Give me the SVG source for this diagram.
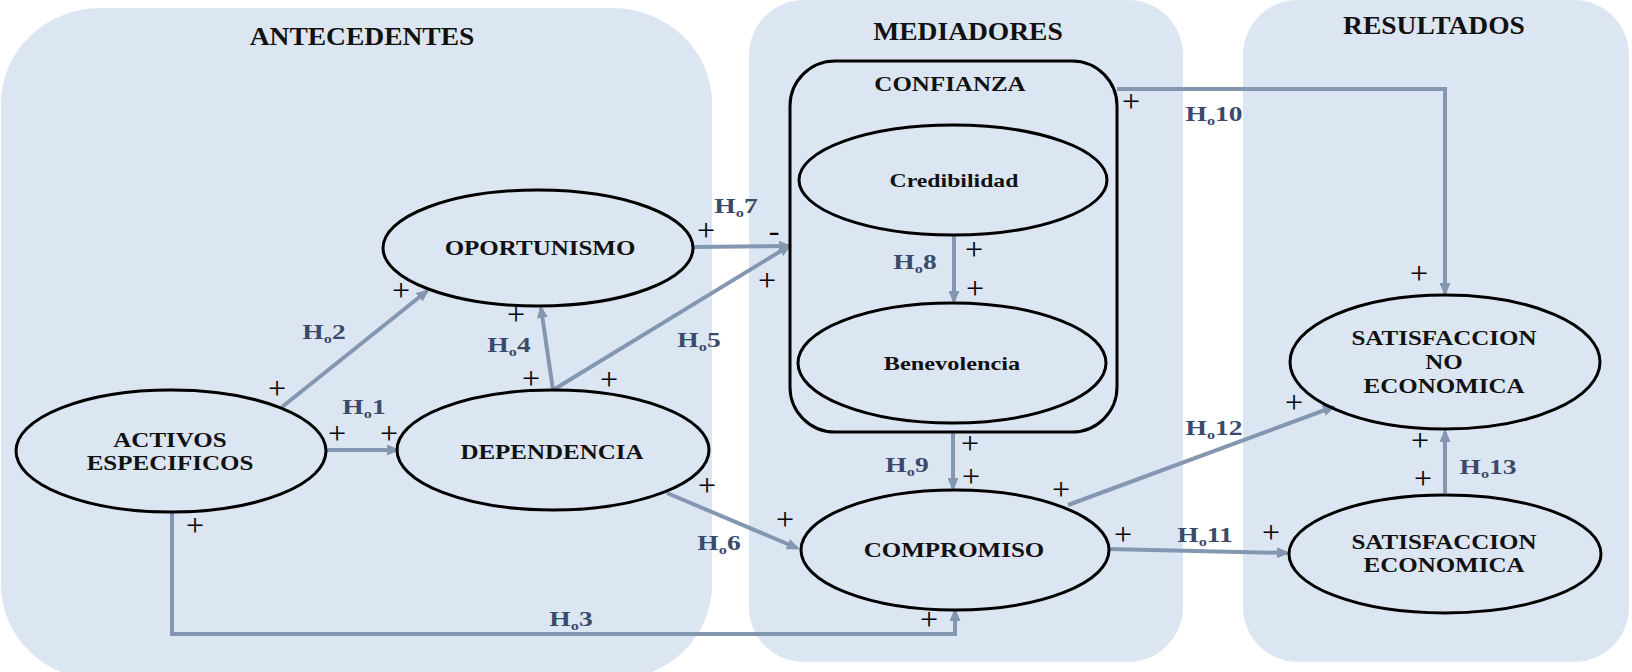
<svg xmlns="http://www.w3.org/2000/svg" width="1632" height="672" viewBox="0 0 1632 672">
<style>
.panel{fill:#dce6f2;stroke:none}
.node{fill:none;stroke:#000;stroke-width:3}
.title{font-family:"Liberation Serif","Times New Roman",serif;font-weight:bold;font-size:25px;fill:#111;text-anchor:middle}
.nl{font-family:"Liberation Serif","Times New Roman",serif;font-weight:bold;font-size:20px;fill:#111;text-anchor:middle}
.hl{font-family:"Liberation Serif","Times New Roman",serif;font-weight:bold;font-size:22px;fill:#3b4a6b;text-anchor:middle}
.hl .s{font-size:13px}
.pm{font-family:"Liberation Serif","Times New Roman",serif;font-size:32px;fill:#000;text-anchor:middle}
.edge{fill:none;stroke:#8497b0;stroke-width:4;marker-end:url(#ah)}
</style>
<defs>
<marker id="ah" viewBox="0 0 13 11" refX="10" refY="5.5" markerWidth="13" markerHeight="11" markerUnits="userSpaceOnUse" orient="auto">
<path d="M0,0 L13,5.5 L0,11 z" fill="#8497b0"/>
</marker>
</defs>
<rect width="1632" height="672" fill="#fff"/>

<g id="panel-antecedentes">
<rect class="panel" x="1" y="8" width="711" height="672" rx="100" ry="95"/>
<text class="title" transform="translate(362 45) scale(1.1 1)">ANTECEDENTES</text>
</g>
<g id="panel-mediadores">
<rect class="panel" x="749" y="0" width="434" height="662" rx="55" ry="55"/>
<text class="title" transform="translate(968 40) scale(1.1 1)">MEDIADORES</text>
</g>
<g id="panel-resultados">
<rect class="panel" x="1243" y="0" width="386" height="662" rx="55" ry="55"/>
<text class="title" transform="translate(1434 34) scale(1.1 1)">RESULTADOS</text>
</g>

<g id="connectors">
<path class="edge" d="M327,450 L397,450"/>
<path class="edge" d="M282,407 L427,291"/>
<path class="edge" d="M172,512 L172,634 L955,634 L955,611"/>
<path class="edge" d="M553,390 L541,308"/>
<path class="edge" d="M553,390 L789,246"/>
<path class="edge" d="M693,247 L789,246"/>
<path class="edge" d="M667,493 L797,548"/>
<path class="edge" d="M954,235 L954,301"/>
<path class="edge" d="M953,432 L953,488"/>
<path class="edge" d="M1117,89 L1445,89 L1445,293"/>
<path class="edge" d="M1108,549 L1287,553"/>
<path class="edge" d="M1068,505 L1333,407"/>
<path class="edge" d="M1445,493 L1445,432"/>
</g>

<g id="confianza">
<rect class="node" x="790" y="61" width="327" height="371" rx="45" ry="45"/>
<text class="nl" transform="translate(950 91) scale(1.25 1)">CONFIANZA</text>
</g>
<g id="credibilidad">
<ellipse class="node" cx="953" cy="180" rx="154" ry="55"/>
<text class="nl" style="font-size:19px" transform="translate(954 187) scale(1.25 1)">Credibilidad</text>
</g>
<g id="benevolencia">
<ellipse class="node" cx="952" cy="363" rx="154" ry="60"/>
<text class="nl" style="font-size:19px" transform="translate(952 370) scale(1.28 1)">Benevolencia</text>
</g>
<g id="oportunismo">
<ellipse class="node" cx="538" cy="248" rx="155" ry="58"/>
<text class="nl" transform="translate(540 255) scale(1.25 1)">OPORTUNISMO</text>
</g>
<g id="activos">
<ellipse class="node" cx="171" cy="451" rx="155" ry="61"/>
<text class="nl" transform="translate(170 447) scale(1.25 1)">ACTIVOS</text>
<text class="nl" transform="translate(170 470) scale(1.25 1)">ESPECIFICOS</text>
</g>
<g id="dependencia">
<ellipse class="node" cx="553" cy="450" rx="156" ry="60"/>
<text class="nl" transform="translate(552 459) scale(1.25 1)">DEPENDENCIA</text>
</g>
<g id="compromiso">
<ellipse class="node" cx="955" cy="550" rx="154" ry="60"/>
<text class="nl" transform="translate(954 557) scale(1.25 1)">COMPROMISO</text>
</g>
<g id="sat-no-economica">
<ellipse class="node" cx="1445" cy="362" rx="155" ry="67"/>
<text class="nl" transform="translate(1444 345) scale(1.25 1)">SATISFACCION</text>
<text class="nl" transform="translate(1444 369) scale(1.25 1)">NO</text>
<text class="nl" transform="translate(1444 393) scale(1.25 1)">ECONOMICA</text>
</g>
<g id="sat-economica">
<ellipse class="node" cx="1445" cy="554" rx="156" ry="59"/>
<text class="nl" transform="translate(1444 549) scale(1.25 1)">SATISFACCION</text>
<text class="nl" transform="translate(1444 572) scale(1.25 1)">ECONOMICA</text>
</g>

<g id="hypothesis-labels">
<text class="hl" transform="translate(364 414) scale(1.25 1)">H<tspan class="s" dy="4">o</tspan><tspan dy="-4">1</tspan></text>
<text class="hl" transform="translate(324 339) scale(1.25 1)">H<tspan class="s" dy="4">o</tspan><tspan dy="-4">2</tspan></text>
<text class="hl" transform="translate(571 626) scale(1.25 1)">H<tspan class="s" dy="4">o</tspan><tspan dy="-4">3</tspan></text>
<text class="hl" transform="translate(509 352) scale(1.25 1)">H<tspan class="s" dy="4">o</tspan><tspan dy="-4">4</tspan></text>
<text class="hl" transform="translate(699 347) scale(1.25 1)">H<tspan class="s" dy="4">o</tspan><tspan dy="-4">5</tspan></text>
<text class="hl" transform="translate(719 550) scale(1.25 1)">H<tspan class="s" dy="4">o</tspan><tspan dy="-4">6</tspan></text>
<text class="hl" transform="translate(736 213) scale(1.25 1)">H<tspan class="s" dy="4">o</tspan><tspan dy="-4">7</tspan></text>
<text class="hl" transform="translate(915 269) scale(1.25 1)">H<tspan class="s" dy="4">o</tspan><tspan dy="-4">8</tspan></text>
<text class="hl" transform="translate(907 472) scale(1.25 1)">H<tspan class="s" dy="4">o</tspan><tspan dy="-4">9</tspan></text>
<text class="hl" transform="translate(1214 121) scale(1.25 1)">H<tspan class="s" dy="4">o</tspan><tspan dy="-4">10</tspan></text>
<text class="hl" transform="translate(1205 542) scale(1.25 1)">H<tspan class="s" dy="4">o</tspan><tspan dy="-4">11</tspan></text>
<text class="hl" transform="translate(1214 435) scale(1.25 1)">H<tspan class="s" dy="4">o</tspan><tspan dy="-4">12</tspan></text>
<text class="hl" transform="translate(1488 474) scale(1.25 1)">H<tspan class="s" dy="4">o</tspan><tspan dy="-4">13</tspan></text>
</g>

<g id="signs">
<text class="pm" x="277" y="399">+</text>
<text class="pm" x="401" y="301">+</text>
<text class="pm" x="337" y="444">+</text>
<text class="pm" x="389" y="444">+</text>
<text class="pm" x="195" y="536">+</text>
<text class="pm" x="531" y="389">+</text>
<text class="pm" x="516" y="325">+</text>
<text class="pm" x="609" y="390">+</text>
<text class="pm" x="767" y="291">+</text>
<text class="pm" x="706" y="241">+</text>
<text class="pm" x="774" y="241">-</text>
<text class="pm" x="707" y="496">+</text>
<text class="pm" x="785" y="530">+</text>
<text class="pm" x="929" y="630">+</text>
<text class="pm" x="974" y="260">+</text>
<text class="pm" x="975" y="299">+</text>
<text class="pm" x="970" y="454">+</text>
<text class="pm" x="971" y="487">+</text>
<text class="pm" x="1131" y="112">+</text>
<text class="pm" x="1419" y="284">+</text>
<text class="pm" x="1061" y="500">+</text>
<text class="pm" x="1294" y="413">+</text>
<text class="pm" x="1123" y="545">+</text>
<text class="pm" x="1271" y="543">+</text>
<text class="pm" x="1420" y="451">+</text>
<text class="pm" x="1423" y="489">+</text>
</g>
</svg>
